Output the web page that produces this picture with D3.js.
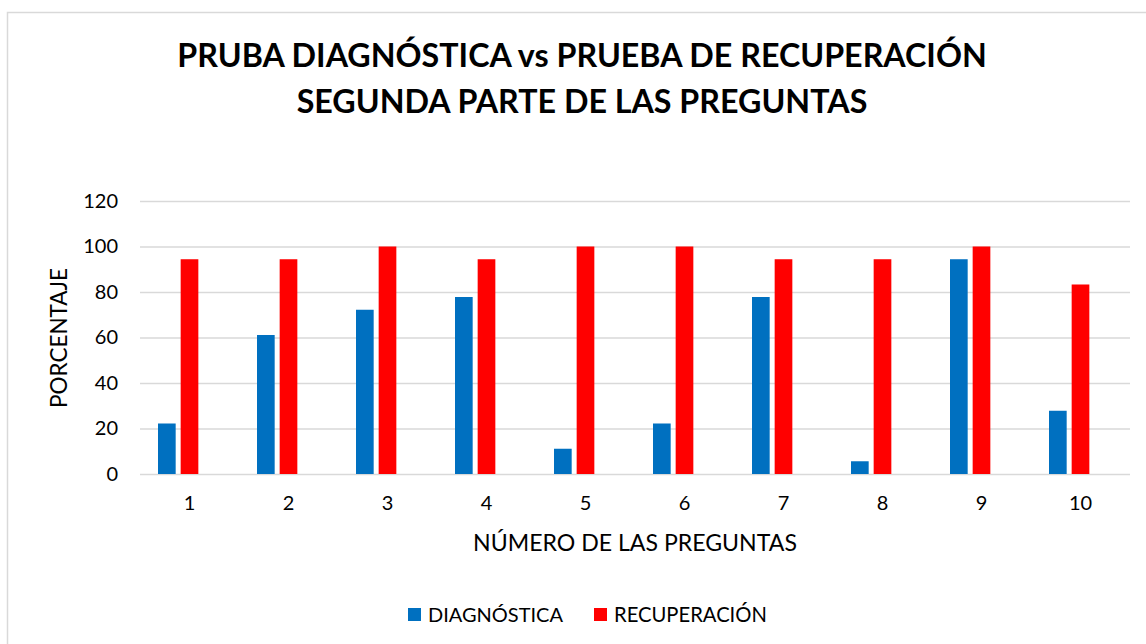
<!DOCTYPE html>
<html>
<head>
<meta charset="utf-8">
<script src="https://cdn.jsdelivr.net/npm/d3@7"></script>
<style>
  body { margin: 0; background: #fff; }
  svg { display: block; font-family: Lato, "Open Sans", sans-serif; }
</style>
</head>
<body>
<svg id="chart" width="1146" height="644"></svg>
<script>
// Data
const preguntas = ['1', '2', '3', '4', '5', '6', '7', '8', '9', '10'];
const diagnostica = [22.2, 61.1, 72.2, 77.8, 11.1, 22.2, 77.8, 5.6, 94.4, 27.8];
const recuperacion = [94.4, 94.4, 100, 94.4, 100, 100, 94.4, 94.4, 100, 83.3];
const yTicks = [0, 20, 40, 60, 80, 100, 120];
const seriesNames = ['DIAGNÓSTICA', 'RECUPERACIÓN'];
const seriesColors = ['#0070C0', '#FF0000'];

const svg = d3.select('#chart');
const plotLeft = 140, plotRight = 1130, plotTop = 201, plotBottom = 474;
const tickFont = 20;

// fit a text element to a target width
function fitWidth(sel, w) {
  const node = sel.node();
  const fs = parseFloat(sel.attr('font-size'));
  const len = node.getComputedTextLength();
  sel.attr('font-size', fs * w / len);
}

// chart border (clipped by the page like in the original)
svg.append('rect')
    .attr('x', 7.5).attr('y', 12.5)
    .attr('width', 1160).attr('height', 660)
    .attr('fill', 'none').attr('stroke', '#d9d9d9').attr('stroke-width', 1.5);

// Title
const t1 = svg.append('text').attr('x', 582).attr('y', 67)
    .attr('text-anchor', 'middle').attr('font-weight', 'bold').attr('font-size', 30)
    .attr('fill', '#000').text('PRUBA DIAGNÓSTICA vs PRUEBA DE RECUPERACIÓN');
fitWidth(t1, 810);
const t2 = svg.append('text').attr('x', 582).attr('y', 113)
    .attr('text-anchor', 'middle').attr('font-weight', 'bold').attr('font-size', 30)
    .attr('fill', '#000').text('SEGUNDA PARTE DE LAS PREGUNTAS');
t2.attr('font-size', t1.attr('font-size'));

// Scales
const x = d3.scaleBand().domain(preguntas).range([plotLeft, plotRight]).paddingInner(0).paddingOuter(0);
// a third empty slot, as in the source workbook
const xSub = d3.scaleBand().domain([0, 1, 2]).range([18, x.bandwidth() - 18]).paddingInner(0.22).paddingOuter(0);
const y = d3.scaleLinear().domain([0, 120]).range([plotBottom, plotTop]);

// gridlines
svg.append('g').selectAll('line').data(yTicks).join('line')
    .attr('x1', plotLeft).attr('x2', plotRight)
    .attr('y1', d => y(d) + 0.5).attr('y2', d => y(d) + 0.5)
    .attr('stroke', '#d9d9d9').attr('stroke-width', 1.3);

// y axis labels
const yAxis = svg.append('g').attr('transform', `translate(${plotLeft - 22},0)`)
    .call(d3.axisLeft(y).tickValues(yTicks).tickSize(0).tickPadding(0));
yAxis.select('.domain').remove();
yAxis.selectAll('text').attr('font-size', tickFont).attr('fill', '#000')
    .attr('font-family', 'Lato, sans-serif');

// bars
const data = [diagnostica, recuperacion];
data.forEach((vals, s) => {
  svg.append('g').selectAll('rect').data(vals).join('rect')
      .attr('x', (d, i) => x(preguntas[i]) + xSub(s))
      .attr('width', xSub.bandwidth())
      .attr('y', d => y(d))
      .attr('height', d => y(0) - y(d))
      .attr('fill', seriesColors[s]);
});

// x axis labels
const xAxis = svg.append('g').attr('transform', `translate(0,${plotBottom + 22})`)
    .call(d3.axisBottom(x).tickSize(0).tickPadding(0));
xAxis.select('.domain').remove();
xAxis.selectAll('text').attr('font-size', tickFont).attr('fill', '#000')
    .attr('font-family', 'Lato, sans-serif');

// axis titles
const xt = svg.append('text').attr('x', 635).attr('y', 551)
    .attr('text-anchor', 'middle').attr('font-size', 20).attr('fill', '#000')
    .text('NÚMERO DE LAS PREGUNTAS');
fitWidth(xt, 324);
const yt = svg.append('text')
    .attr('transform', 'translate(67,338) rotate(-90)')
    .attr('text-anchor', 'middle').attr('font-size', 20).attr('fill', '#000')
    .text('PORCENTAJE');
fitWidth(yt, 140);

// legend
const legendX = [408, 594];
seriesNames.forEach((name, i) => {
  const g = svg.append('g').attr('transform', `translate(${legendX[i]},608)`);
  g.append('rect').attr('width', 13).attr('height', 13).attr('fill', seriesColors[i]);
  const lt = g.append('text').attr('x', 20).attr('y', 13.5)
      .attr('font-size', 18).attr('fill', '#000').text(name);
  fitWidth(lt, i === 0 ? 135 : 153);
});
</script>
</body>
</html>
